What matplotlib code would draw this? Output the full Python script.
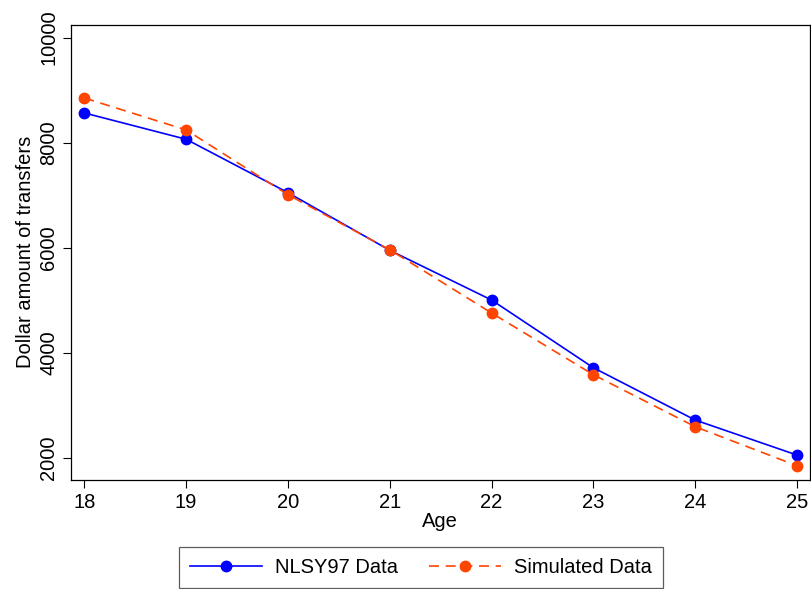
import numpy as np
import matplotlib
matplotlib.use('Agg')
from matplotlib import pyplot as plt

# data
ages = [18, 19, 20, 21, 22, 23, 24, 25]
nlsy = [8566, 8065, 7048, 5950, 5003, 3713, 2717, 2050]
simulated = [8851, 8242, 7009, 5960, 4756, 3580, 2590, 1846]
y_ticks = [2000, 4000, 6000, 8000, 10000]

plt.rcParams['font.family'] = ['Liberation Sans', 'DejaVu Sans']
fs = 14.5

fig = plt.figure(figsize=(8.11, 5.89), dpi=100)
ax = fig.add_axes([0.0872, 0.1856, 0.9116, 0.7728])

ax.plot(ages, nlsy, color='#0000FF', lw=1.2, marker='o', ms=7.5,
        label='NLSY97 Data', zorder=3)
ax.plot(ages, simulated, color='#FF4500', lw=1.2, marker='o', ms=7.5,
        dashes=(6, 4), label='Simulated Data', zorder=4)

ax.set_xlim(17.866, 25.128)
ax.set_ylim(1581, 10251)
ax.set_xticks(ages)
ax.set_yticks(y_ticks)
ax.tick_params(axis='both', direction='out', length=6, width=0.8,
               labelsize=fs, color='black')
ax.tick_params(axis='y', pad=3)
for lbl in ax.get_yticklabels():
    lbl.set_rotation(90)
    lbl.set_va('center')

for s in ax.spines.values():
    s.set_linewidth(0.9)
    s.set_color('black')

ax.set_xlabel('Age', fontsize=fs, labelpad=0)
ax.set_ylabel('Dollar amount of transfers', fontsize=fs, labelpad=3)

leg = fig.legend(loc='lower center', bbox_to_anchor=(0.519, 0.002), ncol=2,
                 fontsize=fs, frameon=True, fancybox=False,
                 handlelength=3.6, columnspacing=1.5, borderpad=0.55,
                 handletextpad=0.65, borderaxespad=0)
leg.get_frame().set_edgecolor('#333333')
leg.get_frame().set_linewidth(0.9)

fig.savefig('out.png', dpi=100)
